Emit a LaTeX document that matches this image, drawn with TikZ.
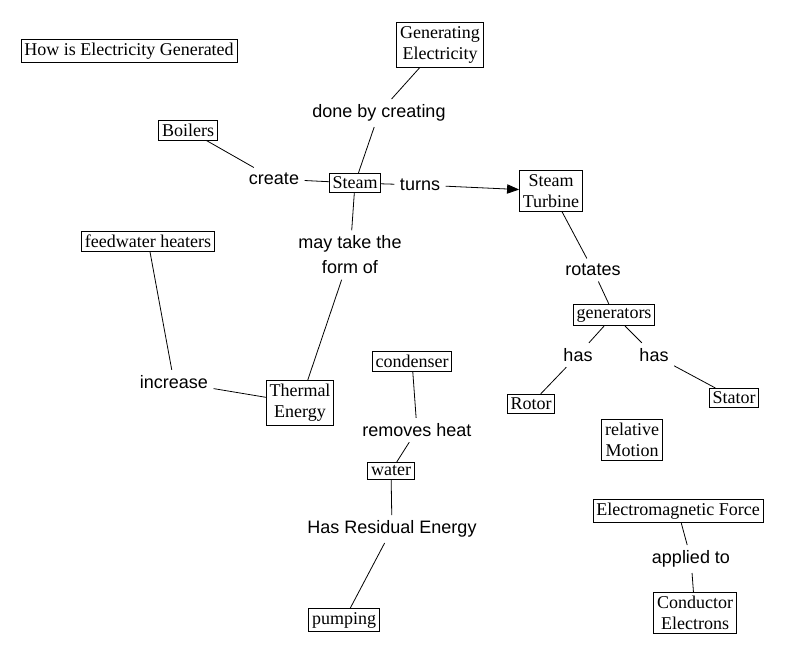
\documentclass[tikz,border=0pt]{standalone}
\usepackage{fontspec}
\setmainfont{Liberation Serif}
\newfontfamily\labelfont{Liberation Sans}
\usepackage{tikz}
\usetikzlibrary{arrows.meta}

\begin{document}
\begin{tikzpicture}[x=0.75pt,y=-0.75pt,
concept/.style={draw,line width=0.6pt,align=center,inner xsep=2.5pt,inner ysep=2.7pt,font=\fontsize{13.5}{16}\selectfont},
linkword/.style={align=center,inner sep=4pt,font=\labelfont\fontsize{13.5}{18.8}\selectfont},
link/.style={line width=0.6pt}]
\useasboundingbox (0,0) rectangle (785,657);

\node[concept] (title) at (129,51) {How is Electricity Generated};
\node[concept] (generating) at (440,45) {Generating\\Electricity};
\node[concept] (boilers) at (188,130) {Boilers};
\node[concept] (steam) at (355,183) {Steam};
\node[concept] (turbine) at (551,191) {Steam\\Turbine};
\node[concept] (feedwater) at (148,241) {feedwater heaters};
\node[concept] (generators) at (614,315) {generators};
\node[concept] (thermal) at (300,403) {Thermal\\Energy};
\node[concept] (condenser) at (412,361) {condenser};
\node[concept] (rotor) at (531,404) {Rotor};
\node[concept] (stator) at (734,398) {Stator};
\node[concept] (motion) at (632,440) {relative\\Motion};
\node[concept] (water) at (391,471) {water};
\node[concept] (emforce) at (678,511) {Electromagnetic Force};
\node[concept] (conductor) at (695,613) {Conductor\\Electrons};
\node[concept] (pumping) at (344,620) {pumping};

\node[linkword] (donebycreating) at (379,113) {done by creating};
\node[linkword] (create) at (274,179) {create};
\node[linkword] (turns) at (420,185) {turns};
\node[linkword] (mayform) at (350,255) {may take the\\form of};
\node[linkword] (rotates) at (593,270) {rotates};
\node[linkword] (hasleft) at (578,355) {has};
\node[linkword] (hasright) at (654,355) {has};
\node[linkword] (increase) at (174,382) {increase};
\node[linkword] (removesheat) at (417,430) {removes heat};
\node[linkword] (residual) at (392,529) {Has Residual Energy};
\node[linkword] (appliedto) at (691,559) {applied to};

\draw[link] (generating) -- (donebycreating);
\draw[link] (donebycreating) -- (steam);
\draw[link] (boilers) -- (create);
\draw[link] (create) -- (steam);
\draw[link] (steam) -- (turns);
\draw[link,-{Triangle[length=9pt,width=7pt]}] (turns) -- (turbine);
\draw[link] (steam) -- (mayform);
\draw[link] (mayform) -- (thermal);
\draw[link] (feedwater) -- (increase);
\draw[link] (increase) -- (thermal);
\draw[link] (turbine) -- (rotates);
\draw[link] (rotates) -- (generators);
\draw[link] (generators) -- (hasleft);
\draw[link] (hasleft) -- (rotor);
\draw[link] (generators) -- (hasright);
\draw[link] (hasright) -- (stator);
\draw[link] (condenser) -- (removesheat);
\draw[link] (removesheat) -- (water);
\draw[link] (water) -- (residual);
\draw[link] (residual) -- (pumping);
\draw[link] (emforce) -- (appliedto);
\draw[link] (appliedto) -- (conductor);
\end{tikzpicture}
\end{document}
